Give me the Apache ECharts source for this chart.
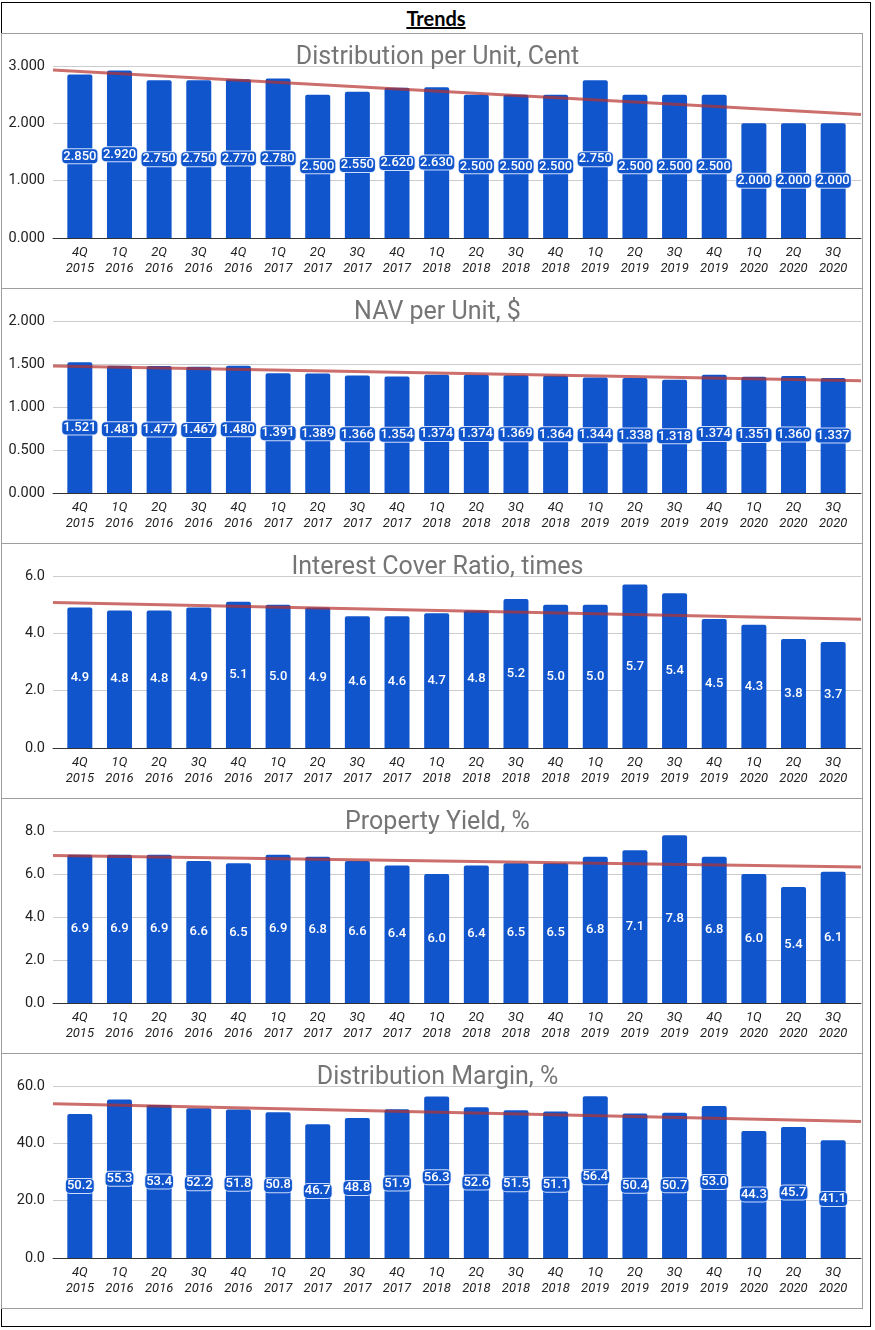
<!DOCTYPE html>
<html>
<head>
<meta charset="utf-8">
<script src="https://cdn.jsdelivr.net/npm/echarts@6/dist/echarts.min.js"></script>
<style>
  body { margin: 0; background: #fff; font-family: Roboto, sans-serif; }
  #frame { position: absolute; left: 1px; top: 2px; width: 870px; height: 1325px; border: 1px solid #000; box-sizing: border-box; }
  #heading { position: absolute; left: 1px; top: 6px; width: 870px; height: 26px; line-height: 26px; text-align: center;
             font: bold 20px Lato, "Liberation Sans", sans-serif; text-decoration: underline; }
  .panel { position: absolute; left: 1px; width: 862px; height: 256px; border: 1px solid #9e9e9e; box-sizing: border-box; background: #fff; }
  .chart { position: absolute; left: 0; width: 875px; height: 255px; }
</style>
</head>
<body>
<div id="frame"></div>
<div id="heading">Trends</div>
<div id="panels"></div>
<script>
// quarters on the x axis
var quarters = ['4Q\n2015', '1Q\n2016', '2Q\n2016', '3Q\n2016', '4Q\n2016', '1Q\n2017', '2Q\n2017', '3Q\n2017', '4Q\n2017', '1Q\n2018',
                '2Q\n2018', '3Q\n2018', '4Q\n2018', '1Q\n2019', '2Q\n2019', '3Q\n2019', '4Q\n2019', '1Q\n2020', '2Q\n2020', '3Q\n2020'];

var distPerUnit = [2.850, 2.920, 2.750, 2.750, 2.770, 2.780, 2.500, 2.550, 2.620, 2.630, 2.500, 2.500, 2.500, 2.750, 2.500, 2.500, 2.500, 2.000, 2.000, 2.000];
var navPerUnit = [1.521, 1.481, 1.477, 1.467, 1.480, 1.391, 1.389, 1.366, 1.354, 1.374, 1.374, 1.369, 1.364, 1.344, 1.338, 1.318, 1.374, 1.351, 1.360, 1.337];
var interestCover = [4.9, 4.8, 4.8, 4.9, 5.1, 5.0, 4.9, 4.6, 4.6, 4.7, 4.8, 5.2, 5.0, 5.0, 5.7, 5.4, 4.5, 4.3, 3.8, 3.7];
var propertyYield = [6.9, 6.9, 6.9, 6.6, 6.5, 6.9, 6.8, 6.6, 6.4, 6.0, 6.4, 6.5, 6.5, 6.8, 7.1, 7.8, 6.8, 6.0, 5.4, 6.1];
var distMargin = [50.2, 55.3, 53.4, 52.2, 51.8, 50.8, 46.7, 48.8, 51.9, 56.3, 52.6, 51.5, 51.1, 56.4, 50.4, 50.7, 53.0, 44.3, 45.7, 41.1];

// y axis: max, step, decimals
var distAxis = [3, 1, 3];
var navAxis = [2, 0.5, 3];
var coverAxis = [6, 2, 1];
var yieldAxis = [8, 2, 1];
var marginAxis = [60, 20, 1];

var panels = [
  ['Distribution per Unit, Cent', distPerUnit, distAxis],
  ['NAV per Unit, $', navPerUnit, navAxis],
  ['Interest Cover Ratio, times', interestCover, coverAxis],
  ['Property Yield, %', propertyYield, yieldAxis],
  ['Distribution Margin, %', distMargin, marginAxis]
];

// least squares trendline, like the sheet's linear trend
function fitLine(vals) {
  var n = vals.length, mx = (n - 1) / 2, my = 0, sxy = 0, sxx = 0;
  vals.forEach(function (v) { my += v / n; });
  vals.forEach(function (v, i) { sxy += (i - mx) * (v - my); sxx += (i - mx) * (i - mx); });
  var b = sxy / sxx;
  return function (x) { return my + b * (x - mx); };
}

var holder = document.getElementById('panels');

panels.forEach(function (p, k) {
  var top = 33 + 255 * k;
  var box = document.createElement('div');
  box.className = 'panel';
  box.style.top = top + 'px';
  holder.appendChild(box);
  var el = document.createElement('div');
  el.className = 'chart';
  el.style.top = top + 'px';
  holder.appendChild(el);

  var title = p[0], values = p[1], ax = p[2];
  var trend = fitLine(values);
  var uMin = -0.681, uMax = values.length - 1 + 0.707;
  // labels wider than the bar get the sheet's boxed look
  var wide = values[0].toFixed(ax[2]).length > 3;

  var label = {
    show: true, position: 'inside', color: '#fff', fontSize: 13, fontWeight: 500,
    formatter: function (d) { return d.value.toFixed(ax[2]); }
  };
  if (wide) {
    label.backgroundColor = '#1155cc';
    label.borderColor = 'rgba(225,235,255,0.9)';
    label.borderWidth = 1;
    label.borderRadius = 4;
    label.padding = [1, 1, 0, 1];
  }

  var chart = echarts.init(el);
  chart.setOption({
    animation: false,
    textStyle: { fontFamily: 'Roboto' },
    title: {
      text: title, left: 'center', top: 7,
      textStyle: { fontSize: 25, fontWeight: 'normal', color: '#757575', fontFamily: 'Roboto' }
    },
    grid: [
      { left: 53, right: 14, top: 33, height: 172 },
      { left: 60, right: 22, top: 33, height: 172 }
    ],
    xAxis: [
      {
        gridIndex: 0, type: 'value', min: uMin, max: uMax,
        axisLabel: { show: false }, axisTick: { show: false }, splitLine: { show: false },
        axisLine: { show: true, lineStyle: { color: '#333', width: 1 } }
      },
      {
        gridIndex: 1, type: 'category', data: quarters,
        axisLine: { show: false }, axisTick: { show: false },
        axisLabel: { interval: 0, fontStyle: 'italic', fontSize: 13, color: '#222', lineHeight: 16, margin: 7 }
      }
    ],
    yAxis: [
      {
        gridIndex: 0, type: 'value', min: 0, max: ax[0], interval: ax[1],
        axisLabel: { formatter: function (v) { return v.toFixed(ax[2]); }, fontSize: 14.5, color: '#222', margin: 8 },
        splitLine: { lineStyle: { color: '#cccccc' } },
        axisLine: { show: false }, axisTick: { show: false }
      },
      { gridIndex: 1, type: 'value', min: 0, max: ax[0], show: false }
    ],
    series: [
      {
        type: 'bar', xAxisIndex: 1, yAxisIndex: 1, data: values, barWidth: 25,
        itemStyle: { color: '#1155cc', borderRadius: [2, 2, 0, 0] },
        label: label
      },
      {
        type: 'line', xAxisIndex: 0, yAxisIndex: 0, symbol: 'none', z: 3, silent: true,
        data: [[uMin, trend(uMin)], [uMax, trend(uMax)]],
        lineStyle: { color: '#b7312c', opacity: 0.7, width: 3 }
      }
    ]
  });
});
</script>
</body>
</html>
